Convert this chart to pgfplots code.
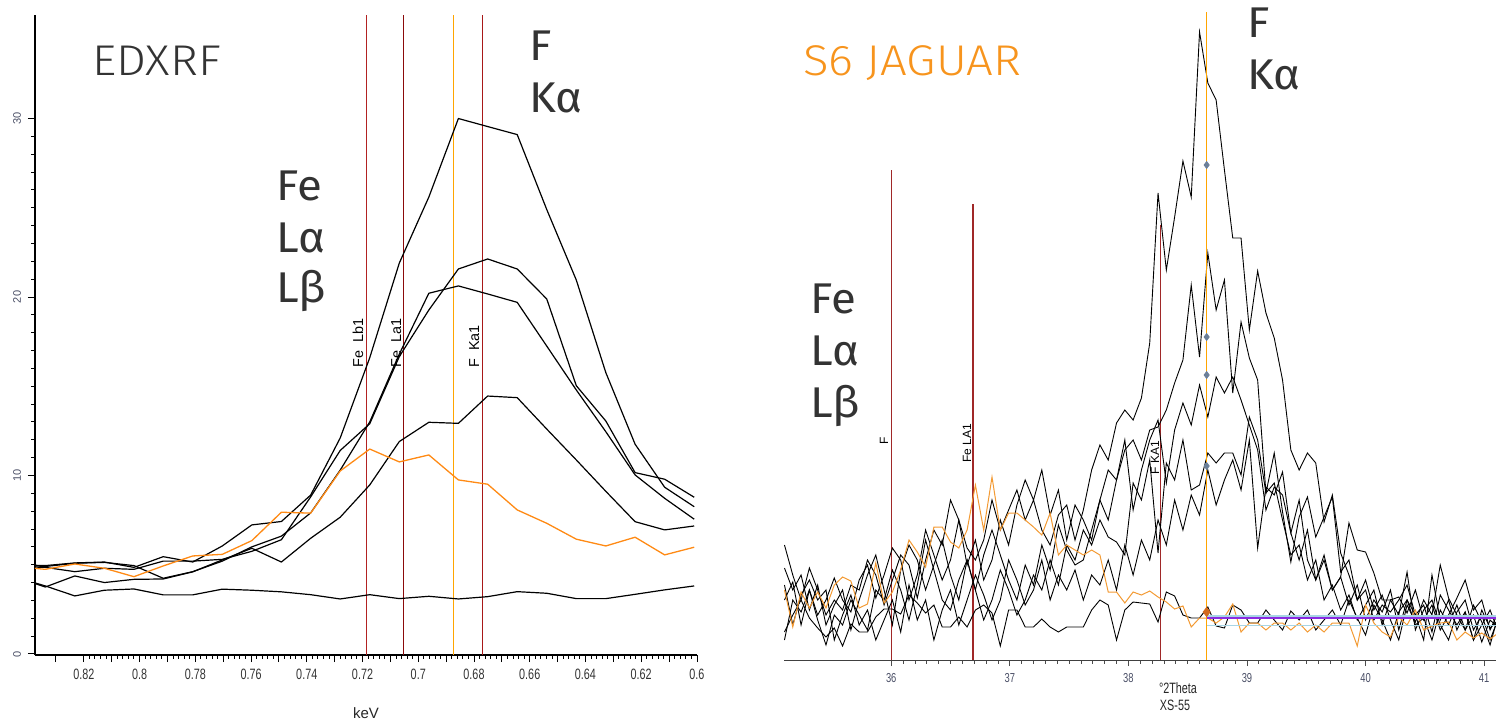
\documentclass[border=0pt]{standalone}
\usepackage{fontspec}
\setmainfont{Liberation Sans}
\newfontfamily\narrowfont{Liberation Sans}[FakeStretch=0.72]
\newfontfamily\lightfont{Fira Sans Light}[FakeStretch=1.1]
\newfontfamily\bigfont{Fira Sans}[FakeStretch=1.06]
\usepackage{pgfplots}
\usepackage{pgfplotstable}
\pgfplotsset{compat=1.18}

\definecolor{lineorange}{HTML}{FF8A14}
\definecolor{thinorange}{HTML}{F39A33}
\definecolor{vredA}{HTML}{B22222}
\definecolor{vredB}{HTML}{8B0A0A}
\definecolor{vorange}{HTML}{FFA500}
\definecolor{vredC}{HTML}{A81818}
\definecolor{vredR}{HTML}{A02828}
\definecolor{txtgray}{HTML}{333333}
\definecolor{titleorange}{HTML}{F7941D}
\definecolor{tickgray}{HTML}{4A4F66}
\definecolor{diamondblue}{HTML}{6B7F99}
\definecolor{diamondorange}{HTML}{D2691E}
\definecolor{fitpurple}{HTML}{8A2BE2}
\definecolor{fitblue}{HTML}{A8D5E5}

% EDXRF spectra (keV, counts)
\pgfplotstableread{
x      A     B     C     E     D     O
0.8444 5.0   4.9   5.0   4.3   4.3   4.9
0.8338 4.95  4.85  4.9   3.75  3.81  4.74
0.8232 5.1   4.61  5.08  4.37  3.25  5.04
0.8126 5.15  4.8   5.13  4.0   3.57  4.80
0.8020 4.85  4.74  4.95  4.18  3.64  4.33
0.7915 5.45  5.2   4.24  4.2   3.31  4.93
0.7809 5.15  5.2   4.61  4.6   3.31  5.49
0.7703 6.05  5.3   5.2   5.27  3.63  5.58
0.7597 7.23  5.75  6.0   5.92  3.57  6.35
0.7491 7.42  6.4   6.6   5.15  3.48  7.94
0.7386 8.9   8.8   7.9   6.48  3.32  7.89
0.7280 12.1  11.4  10.3  7.66  3.08  10.25
0.7174 16.6  12.9  13.0  9.47  3.32  11.48
0.7068 21.9  16.66 16.8  11.90 3.10  10.76
0.6962 25.6  19.27 20.21 12.98 3.23  11.15
0.6856 30.0  21.57 20.62 12.92 3.08  9.75
0.6751 29.55 22.13 20.17 14.45 3.21  9.51
0.6645 29.1  21.57 19.70 14.36 3.49  8.07
0.6539 24.9  19.89 17.25 12.6  3.40  7.32
0.6433 20.95 15.03 14.79 10.87 3.10  6.43
0.6327 15.76 13.05 12.45 9.11  3.10  6.05
0.6222 11.75 10.16 10.03 7.41  3.34  6.54
0.6116 9.34  9.79  8.72  6.95  3.59  5.55
0.6010 8.25  8.78  7.55  7.17  3.81  5.98
}\lefttab

% S6 JAGUAR scans (deg 2Theta, counts)
\pgfplotstableread{
t     o   a   b   c   d   e   f
35.10 70  115 60  92  20  75  28
35.17 33  85  78  70  60  35  45
35.24 68  60  35  85  48  65  60
35.31 52  92  70  50  70  80  42
35.38 68  70  45  75  40  60  32
35.45 52  45  60  35  15  70  23
35.52 75  60  82  55  45  20  32
35.59 83  50  60  70  35  45  14
35.66 79  75  48  30  60  65  36
35.73 52  70  80  60  45  35  28
35.80 56  100 95  85  30  50  28
35.87 97  85  62  105 70  20  43
35.94 57  55  85  70  60  40  51
36.01 68  80  112 35  90  60  51
36.08 90  105 100 90  70  28  46
36.15 120 95  60  115 40  75  65
36.22 108 62  85  100 75  40  57
36.29 93  100 130 70  120 60  47
36.36 133 130 105 95  90  20  55
36.43 133 115 80  120 60  50  33
36.50 118 160 100 85  50  70  33
36.57 112 140 140 60  80  35  43
36.64 130 112 95  100 100 60  33
36.71 175 100 120 70  70  85  50
36.78 130 120 80  105 40  65  55
36.85 183 160 100 130 60  40  47
36.92 130 130 140 105 90  60  14
36.99 147 150 115 80  70  100 50
37.06 147 170 155 60  45  80  50
37.13 140 140 180 95  60  55  33
37.20 133 160 160 75  85  70  33
37.27 125 130 190 115 70  100 41
37.34 147 115 145 90  100 60  33
37.41 105 145 170 135 75  85  28
37.48 115 155 120 110 115 70  33
37.55 110 120 155 95  100 90  33
37.62 105 150 140 100 130 60  33
37.69 110 190 120 130 115 85  50
37.76 105 215 160 160 140 75  60
37.83 68  200 190 140 123 100 55
37.90 68  237 180 180 118 70  20
37.97 57  250 210 220 105 115 50
38.04 68  240 220 150 177 85  58
38.11 65  262 200 190 160 120 57
38.18 69  317 230 220 200 100 56
38.25 63  467 233 240 107 140 38
38.32 58  390 250 177 197 115 68
38.39 51  443 277 230 180 160 64
38.46 54  499 300 257 220 130 45
38.53 33  463 375 235 170 165 42
38.60 42  628 303 275 175 145 42
38.67 42  577 407 243 207 190 53
38.74 37  560 350 283 197 155 34
38.81 43  490 380 267 207 180 32
38.88 56  422 267 283 207 200 55
38.95 28  422 338 260 185 170 50
39.02 37  330 302 235 243 220 37
39.09 37  389 280 210 220 112 37
39.16 30  347 167 150 167 173 50
39.23 37  322 207 173 177 165 40
39.30 37  280 148 165 140 188 30
39.37 30  210 98  127 105 127 49
39.44 37  190 143 160 115 100 40
39.51 28  207 163 100 80  130 50
39.58 35  197 123 80  100 80  30
39.65 28  138 143 105 60  100 40
39.72 37  165 163 70  75  70  50
39.79 37  107 88  83  50  83  35
39.86 37  85  100 55  65  137 60
39.93 14  60  60  75  40  110 42
40.00 55  70  80  40  55  108 25
40.07 37  40  50  60  70  87  55
40.14 28  55  65  48  35  60  40
40.21 23  48  40  70  60  60  20
40.28 43  60  20  30  45  63  48
40.35 35  75  55  60  88  47  60
40.42 50  45  38  45  30  70  35
40.49 30  55  60  20  50  40  42
40.56 34  28  45  85  60  55  20
40.63 37  65  95  40  35  30  50
40.70 38  50  62  60  20  45  35
40.77 20  35  45  30  48  62  55
40.84 28  48  30  48  60  80  30
40.91 22  20  55  20  30  50  45
40.98 27  50  38  35  45  60  18
41.05 21  32  15  50  20  30  40
41.12 27  40  45  28  42  48  32
}\righttab

\begin{document}
\begin{tikzpicture}
\path[use as bounding box] (0,0) rectangle (748pt,-359.5pt);

% ---------------- left panel: EDXRF ----------------
\begin{axis}[
  at={(17.5pt,-327.5pt)}, anchor=south west,
  scale only axis, width=331pt, height=320pt,
  x dir=reverse, xmin=0.6, xmax=0.8375, ymin=-0.06, ymax=35.8,
  axis x line*=bottom, axis y line*=left,
  axis line style={line width=0.6pt, black, -},
  xtick={0.6,0.62,0.64,0.66,0.68,0.7,0.72,0.74,0.76,0.78,0.8,0.82},
  xticklabels={0.6,0.62,0.64,0.66,0.68,0.7,0.72,0.74,0.76,0.78,0.8,0.82},
  extra x ticks={0.61,0.63,0.65,0.67,0.69,0.71,0.73,0.75,0.77,0.79,0.81,0.83},
  extra x tick labels={},
  extra x tick style={grid=none},
  minor x tick num=9,
  ytick={0,10,20,30}, minor y tick num=9,
  tick align=outside,
  major tick length=3.5pt, minor tick length=1.8pt,
  tick style={line width=0.45pt, black},
  xticklabel style={font=\narrowfont\fontsize{7.5}{8}\selectfont, text=black!80},
  yticklabel style={font=\fontsize{5.5}{6}\selectfont, text=tickgray, rotate=90, anchor=south},
  /pgf/number format/assume math mode=true,
  xlabel={keV}, xlabel style={font=\fontsize{7.5}{8}\selectfont, text=black!85},
]
\addplot[vredA, line width=0.75pt] coordinates {(0.7185,-0.06) (0.7185,35.8)};
\addplot[vredB, line width=0.75pt] coordinates {(0.7053,-0.06) (0.7053,35.8)};
\addplot[vorange, line width=0.75pt] coordinates {(0.6873,-0.06) (0.6873,35.8)};
\addplot[vredC, line width=0.75pt] coordinates {(0.6770,-0.06) (0.6770,35.8)};
\addplot[black, line width=0.6pt, line join=round] table[x=x, y=D] {\lefttab};
\addplot[black, line width=0.6pt, line join=round] table[x=x, y=E] {\lefttab};
\addplot[black, line width=0.6pt, line join=round] table[x=x, y=C] {\lefttab};
\addplot[black, line width=0.6pt, line join=round] table[x=x, y=B] {\lefttab};
\addplot[black, line width=0.6pt, line join=round] table[x=x, y=A] {\lefttab};
\addplot[lineorange, line width=0.65pt, line join=round] table[x=x, y=O] {\lefttab};
\end{axis}

% ---------------- right panel: S6 JAGUAR ----------------
\begin{axis}[
  at={(392pt,-330pt)}, anchor=south west,
  scale only axis, width=356pt, height=325pt,
  xmin=35.096, xmax=41.10, ymin=0, ymax=650,
  axis x line*=bottom, axis y line=none,
  axis line style={line width=0.5pt, black!75, -},
  xtick={36,37,38,39,40,41}, minor x tick num=9,
  tick align=outside,
  major tick length=3pt, minor tick length=1.8pt,
  tick style={line width=0.4pt, black!70},
  xticklabel style={font=\narrowfont\fontsize{6.5}{7}\selectfont, text=tickgray},
  /pgf/number format/assume math mode=true,
]
\addplot[vredR, line width=0.7pt] coordinates {(36.0,0) (36.0,490)};
\addplot[vredR, line width=0.7pt] coordinates {(36.69,0) (36.69,456)};
\addplot[vredR, line width=0.7pt] coordinates {(38.27,0) (38.27,435)};
\addplot[black, line width=0.45pt] table[x=t, y=f] {\righttab};
\addplot[black, line width=0.45pt] table[x=t, y=e] {\righttab};
\addplot[black, line width=0.45pt] table[x=t, y=d] {\righttab};
\addplot[black, line width=0.45pt] table[x=t, y=c] {\righttab};
\addplot[black, line width=0.45pt] table[x=t, y=b] {\righttab};
\addplot[black, line width=0.45pt] table[x=t, y=a] {\righttab};
\addplot[thinorange, line width=0.5pt] table[x=t, y=o] {\righttab};
\addplot[fitblue, line width=1.3pt] coordinates {(38.66,44) (41.10,44)};
\addplot[fitblue, line width=0.5pt] coordinates {(38.66,35) (41.10,35)};
\addplot[fitpurple, line width=0.6pt] coordinates {(38.66,42) (41.10,42)};
\addplot[vorange, line width=0.7pt] coordinates {(38.66,0) (38.66,648)};
\addplot[only marks, mark=diamond*, mark size=1.7pt, color=diamondblue] coordinates {(38.66,495) (38.66,323) (38.66,285) (38.66,194)};
\addplot[only marks, mark=diamond*, mark size=2.3pt, color=diamondorange] coordinates {(38.66,48)};
\end{axis}

% ---------------- annotations ----------------
\begin{scope}[every node/.style={inner sep=0pt}]
\node[anchor=base west, font=\lightfont\fontsize{21.5}{22}\selectfont, text=txtgray] at (46pt,-37.5pt) {EDXRF};
\node[anchor=base west, font=\bigfont\fontsize{21.5}{22}\selectfont, text=txtgray] at (138pt,-100pt) {Fe};
\node[anchor=base west, font=\bigfont\fontsize{21.5}{22}\selectfont, text=txtgray] at (138pt,-126pt) {Lα};
\node[anchor=base west, font=\bigfont\fontsize{21.5}{22}\selectfont, text=txtgray] at (138pt,-151pt) {Lβ};
\node[anchor=base west, font=\bigfont\fontsize{21.5}{22}\selectfont, text=txtgray] at (264.5pt,-30pt) {F};
\node[anchor=base west, font=\bigfont\fontsize{21.5}{22}\selectfont, text=txtgray] at (264.5pt,-56pt) {Kα};
\node[anchor=base west, rotate=90, font=\fontsize{7.2}{8}\selectfont] at (181.5pt,-184pt) {Fe\ \ Lb1};
\node[anchor=base west, rotate=90, font=\fontsize{7.2}{8}\selectfont] at (200.5pt,-184pt) {Fe\ \ La1};
\node[anchor=base west, rotate=90, font=\fontsize{7.2}{8}\selectfont] at (239.5pt,-184pt) {F\ \ Ka1};

\node[anchor=base west, font=\lightfont\fontsize{21.5}{22}\selectfont, text=titleorange] at (401.5pt,-37.5pt) {S6 JAGUAR};
\node[anchor=base west, font=\bigfont\fontsize{21.5}{22}\selectfont, text=txtgray] at (405pt,-156.5pt) {Fe};
\node[anchor=base west, font=\bigfont\fontsize{21.5}{22}\selectfont, text=txtgray] at (405pt,-182.5pt) {Lα};
\node[anchor=base west, font=\bigfont\fontsize{21.5}{22}\selectfont, text=txtgray] at (405pt,-208.5pt) {Lβ};
\node[anchor=base west, font=\bigfont\fontsize{21.5}{22}\selectfont, text=txtgray] at (623.5pt,-18.5pt) {F};
\node[anchor=base west, font=\bigfont\fontsize{21.5}{22}\selectfont, text=txtgray] at (623.5pt,-44.5pt) {Kα};
\node[anchor=base west, rotate=90, font=\fontsize{6}{7}\selectfont] at (444pt,-222.5pt) {F};
\node[anchor=base west, rotate=90, font=\fontsize{6}{7}\selectfont] at (485.5pt,-231.5pt) {Fe LA1};
\node[anchor=base west, rotate=90, font=\fontsize{6}{7}\selectfont] at (579.5pt,-237.5pt) {F KA1};
\node[font=\narrowfont\fontsize{7.5}{8}\selectfont, text=black!85] at (589pt,-344pt) {°2Theta};
\node[font=\narrowfont\fontsize{7.5}{8}\selectfont, text=black!85] at (587.5pt,-352.5pt) {XS-55};
\end{scope}
\end{tikzpicture}
\end{document}
